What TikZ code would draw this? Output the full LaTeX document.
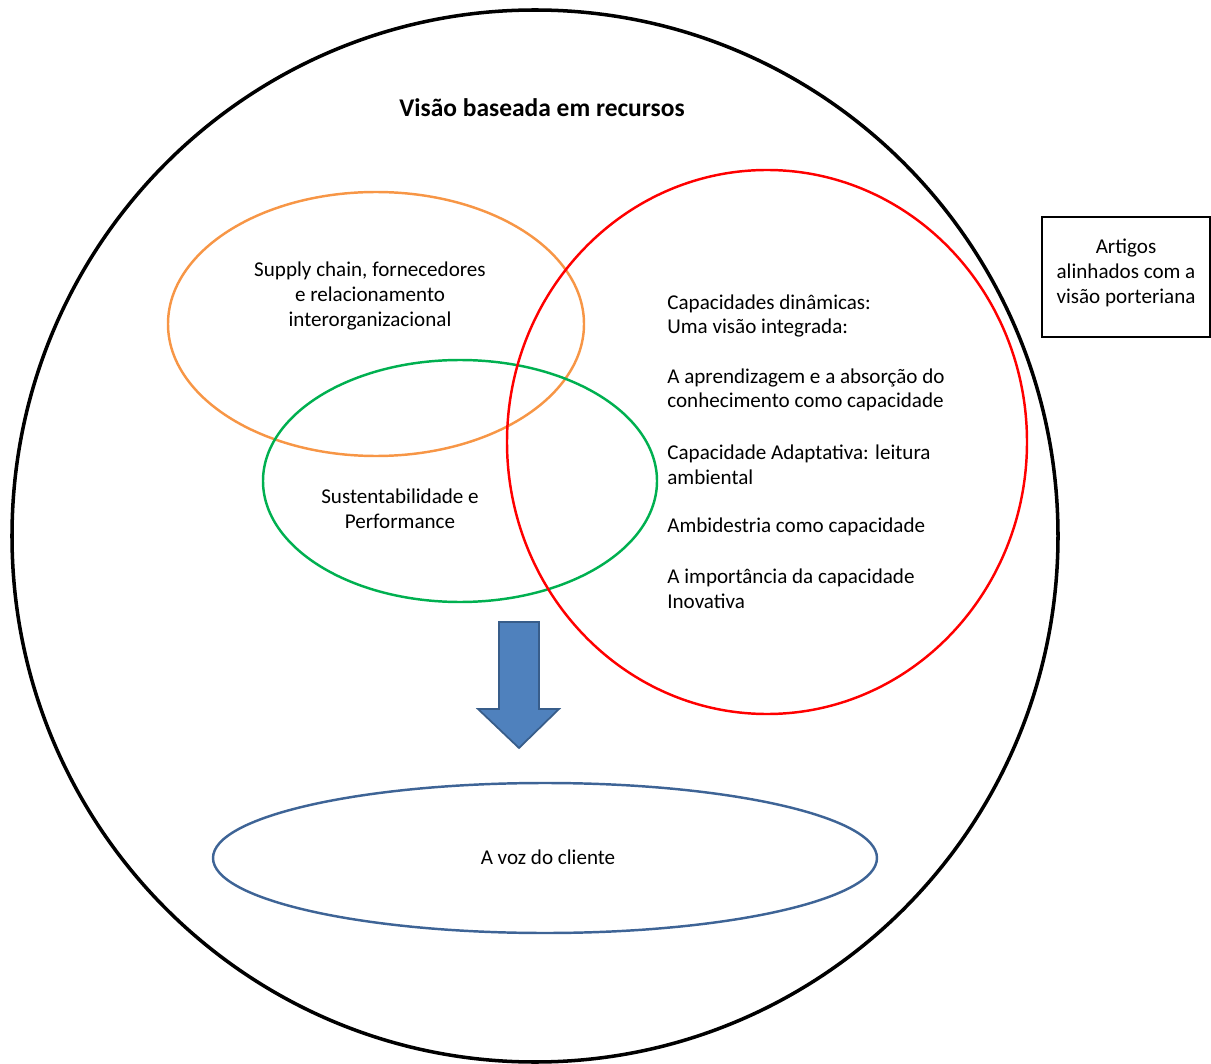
\documentclass[tikz,border=0pt]{standalone}
\usepackage{fontspec}
\setmainfont{Carlito}
\definecolor{rbvorange}{HTML}{F79646}
\definecolor{rbvgreen}{HTML}{00B050}
\definecolor{rbvred}{HTML}{FF0000}
\definecolor{clientblue}{HTML}{3E6496}
\definecolor{arrowfill}{HTML}{4F81BD}
\definecolor{arrowline}{HTML}{385D8A}
\tikzset{
  txt/.style={font=\fontsize{12}{14}\selectfont, align=center, inner sep=0pt},
  itemtxt/.style={txt, align=left, anchor=west},
  ring/.style={line width=1.4pt},
}
\begin{document}
\begin{tikzpicture}[x=0.02cm, y=-0.02cm]
  \useasboundingbox (0,0) rectangle (1211,1064);
  \draw[line width=2pt] (535,536) ellipse [x radius=523, y radius=526];
  \node[font=\bfseries\fontsize{14.5}{17}\selectfont] (titulo) at (542,108) {Visão baseada em recursos};
  \draw[ring, rbvorange] (376,324) ellipse [x radius=208, y radius=132];
  \draw[ring, rbvgreen] (460,481) ellipse [x radius=197, y radius=121];
  \draw[ring, rbvred] (767,442) ellipse [x radius=260, y radius=272];
  \draw[ring, clientblue] (545,858) ellipse [x radius=332, y radius=75];
  \node[txt] (supply) at (370,296) {Supply chain, fornecedores\\e relacionamento\\interorganizacional};
  \node[txt] (sustent) at (400,509) {Sustentabilidade e\\Performance};
  \node[itemtxt] (capdin) at (667,316) {Capacidades dinâmicas:\\Uma visão integrada:};
  \node[itemtxt] (aprend) at (667,390) {A aprendizagem e a absorção do\\conhecimento como capacidade};
  \node[itemtxt] (adapt) at (667,465) {Capacidade Adaptativa: leitura\\ambiental};
  \node[itemtxt] (ambid) at (667,527) {Ambidestria como capacidade};
  \node[itemtxt] (inov) at (667,589) {A importância da capacidade\\Inovativa};
  \draw[fill=arrowfill, draw=arrowline, line width=1pt, line join=miter]
    (499,622) -- (539,622) -- (539,709) -- (559,709) -- (519,748) -- (478,709) -- (499,709) -- cycle;
  \node[txt] (cliente) at (548,857) {A voz do cliente};
  \node[draw, line width=1.5pt, minimum width=3.36cm, minimum height=2.4cm] (artigosbox) at (1126,277) {};
  \node[txt] (artigos) at (1126,273) {Artigos\\alinhados com a\\visão porteriana};
\end{tikzpicture}
\end{document}
